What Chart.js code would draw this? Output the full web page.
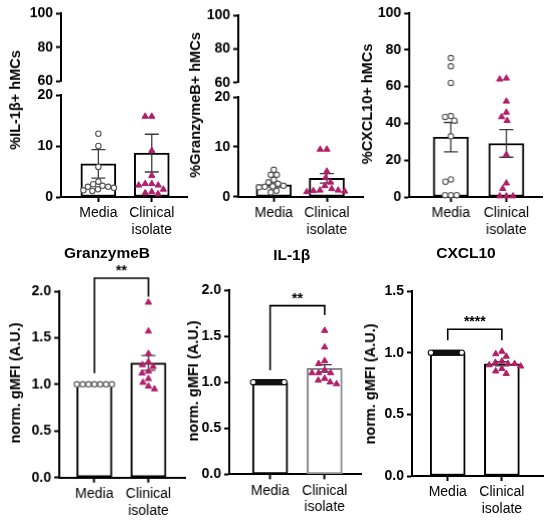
<!DOCTYPE html>
<html>
<head>
<meta charset="utf-8">
<script src="https://cdn.jsdelivr.net/npm/chart.js@4.4.1/dist/chart.umd.min.js"></script>
<style>
  html, body { margin: 0; padding: 0; background: #fff; }
  #fig { position: relative; width: 550px; height: 521px; overflow: hidden;
         font-family: "Liberation Sans", Arial, sans-serif; color: #000; }
  .box { position: absolute; }
  .ytitle { position: absolute; font-weight: bold; font-size: 14.5px; white-space: nowrap;
            transform: translate(-50%, -50%) rotate(-90deg); }
  .ptitle { position: absolute; font-weight: bold; font-size: 15.5px; white-space: nowrap;
            transform: translate(-50%, -50%); }
</style>
</head>
<body>
<div id="fig"></div>
<script>
// ─── DATA ───
const groups = ['Media', 'Clinical isolate'];

// % IL-1b+ hMCs
const il1bPctMedia   = [12.4, 10.0, 5.9, 3.0, 2.5, 2.2, 2.0, 2.0, 1.8, 1.5, 1.3, 1.2];
const il1bPctIsolate = [15.8, 15.8, 9.1, 4.2, 2.6, 2.6, 2.3, 2.3, 1.5, 1.0, 0.8, 0.6];
const il1bPctMean = [6.5, 8.6];
const il1bPctSem  = [2.8, 3.7];

// % GranzymeB+ hMCs
const gzmbPctMedia   = [5.4, 4.4, 4.4, 3.4, 2.9, 2.6, 2.2, 2.1, 2.0, 1.9, 1.2, 0.9];
const gzmbPctIsolate = [9.5, 9.5, 5.1, 3.8, 2.9, 2.2, 1.6, 1.3, 1.3, 1.2, 1.1, 1.0];
const gzmbPctMean = [2.4, 3.7];
const gzmbPctSem  = [0.45, 0.95];

// % CXCL10+ hMCs
const cxclPctMedia   = [75.5, 71, 62, 44, 43.5, 41.5, 33, 9.5, 8.3, 1, 1, 1];
const cxclPctIsolate = [64.5, 64, 52, 46, 43.5, 41.5, 23, 7.5, 4.5, 0.5, 0.5, 0.5];
const cxclPctMean = [32.5, 29.1];
const cxclPctSem  = [8.0, 7.5];

// norm. gMFI
const gzmbMfiMedia   = [1, 1, 1, 1, 1, 1, 1];
const gzmbMfiIsolate = [1.88, 1.57, 1.33, 1.24, 1.21, 1.19, 1.14, 1.12, 1.06, 1.02, 0.98, 0.95];
const gzmbMfiMean = [1.0, 1.23];
const gzmbMfiSem  = [0, 0.08];

const il1bMfiMedia   = [1, 1, 1, 1, 1, 1, 1, 1, 1, 1, 1, 1];
const il1bMfiIsolate = [1.56, 1.38, 1.23, 1.20, 1.13, 1.10, 1.10, 1.10, 1.04, 1.02, 1.00, 0.98];
const il1bMfiMean = [1.0, 1.15];
const il1bMfiSem  = [0, 0.04];

const cxclMfiMedia   = [1, 1, 1, 1, 1, 1, 1, 1, 1, 1, 1, 1];
const cxclMfiIsolate = [1.01, 0.99, 0.97, 0.93, 0.92, 0.91, 0.91, 0.90, 0.89, 0.87, 0.85, 0.83];
const cxclMfiMean = [1.0, 0.91];
const cxclMfiSem  = [0, 0.017];

// significance brackets: [left end, top, right end]
const gzmbBracket = [1.12, 2.14, 1.94];
const il1bBracket = [1.13, 1.83, 1.73];
const cxclBracket = [1.10, 1.19, 1.10];

// ─── LAYOUT ───
const AXIS_W = 44, X_H = 44, PAD_R = 7;
const PINK = '#B21F69';
const FONT = '"Liberation Sans", Arial, sans-serif';

Chart.defaults.font.family = FONT;
Chart.defaults.color = '#000';
Chart.defaults.animation = false;

const panels = [
  { media: il1bPctMedia, isolate: il1bPctIsolate, mean: il1bPctMean, sem: il1bPctSem,
    y: [0, 20, 10, 0], area: [61, 187, 94.5, 196.5], xr: [0.30, 2.66], padTop: 12,
    upper: { y: [60, 100, 20, 0], top: 13.3, bottom: 80.7 },
    yTitle: '%IL-1β+ hMCs', yTitleAt: [15, 100] },
  { media: gzmbPctMedia, isolate: gzmbPctIsolate, mean: gzmbPctMean, sem: gzmbPctSem,
    y: [0, 20, 10, 0], area: [238.3, 362.7, 96.7, 196.5], xr: [0.33, 2.69], padTop: 12,
    upper: { y: [60, 100, 20, 0], top: 15, bottom: 81.7 },
    yTitle: '%GranzymeB+ hMCs', yTitleAt: [195, 105] },
  { media: cxclPctMedia, isolate: cxclPctIsolate, mean: cxclPctMean, sem: cxclPctSem,
    y: [0, 100, 20, 0], area: [409.3, 541.7, 12.7, 196.7], xr: [0.25, 2.65], padTop: 12,
    yTitle: '%CXCL10+ hMCs', yTitleAt: [367, 104] },
  { media: gzmbMfiMedia, isolate: gzmbMfiIsolate, mean: gzmbMfiMean, sem: gzmbMfiSem,
    y: [0, 2, 0.5, 1], area: [59.3, 185, 291, 476.7], xr: [0.35, 2.69], padTop: 50,
    bracket: gzmbBracket, stars: '**',
    yTitle: 'norm. gMFI (A.U.)', yTitleAt: [15, 383], title: 'GranzymeB', titleAt: [107, 253] },
  { media: il1bMfiMedia, isolate: il1bMfiIsolate, mean: il1bMfiMean, sem: il1bMfiSem,
    y: [0, 2, 0.5, 1], area: [229.3, 361, 290, 474.3], xr: [0.25, 2.68], padTop: 50,
    bracket: il1bBracket, stars: '**', dense: true, isoBorder: '#8c8c8c',
    yTitle: 'norm. gMFI (A.U.)', yTitleAt: [193, 381], title: 'IL-1β', titleAt: [291.7, 255] },
  { media: cxclMfiMedia, isolate: cxclMfiIsolate, mean: cxclMfiMean, sem: cxclMfiSem,
    y: [0, 1.5, 0.5, 1], area: [411.7, 542.7, 291, 476], xr: [0.34, 2.76], padTop: 50,
    bracket: cxclBracket, stars: '****', dense: true,
    yTitle: 'norm. gMFI (A.U.)', yTitleAt: [370, 384], title: 'CXCL10', titleAt: [466, 253] }
];

const fig = document.getElementById('fig');

// ─── AXES ───
function yAxis([min, max, step, decimals]) {
  return {
    min, max,
    afterFit: s => { s.width = AXIS_W; },
    border: { display: true, color: '#000', width: 2 },
    grid: { drawOnChartArea: false, drawTicks: true, tickLength: 5, tickWidth: 2, tickColor: '#000' },
    ticks: { stepSize: step, color: '#000', padding: 3, font: { size: 14, weight: 'bold' },
             callback: v => v.toFixed(decimals) }
  };
}

function xAxis([min, max]) {
  return {
    type: 'linear', min, max,
    offset: false,
    afterBuildTicks: s => { s.ticks = groups.map((g, i) => ({ value: i + 1 })); },
    afterFit: s => { s.height = X_H; },
    border: { display: true, color: '#000', width: 2 },
    grid: { offset: false, drawOnChartArea: false, drawTicks: true, tickLength: 5, tickWidth: 2, tickColor: '#000' },
    ticks: { color: '#000', padding: 3, font: { size: 14 },
             callback: v => groups[Math.round(v) - 1].split(' ') }
  };
}

// ─── PLUGINS ───
function errorBars(mean, sem) {
  return {
    id: 'errorBars',
    afterDatasetDraw(chart, args) {
      if (args.index !== 2) return;
      const { ctx, scales: { x, y } } = chart;
      ctx.save();
      ctx.strokeStyle = '#3c3c3c';
      ctx.lineWidth = 1.3;
      mean.forEach((m, i) => {
        if (!sem[i]) return;
        const px = x.getPixelForValue(i + 1);
        const lo = y.getPixelForValue(m - sem[i]);
        const hi = y.getPixelForValue(m + sem[i]);
        ctx.beginPath();
        ctx.moveTo(px, lo); ctx.lineTo(px, hi);
        ctx.moveTo(px - 7, lo); ctx.lineTo(px + 7, lo);
        ctx.moveTo(px - 7, hi); ctx.lineTo(px + 7, hi);
        ctx.stroke();
      });
      ctx.restore();
    }
  };
}

function bracket(b, stars) {
  return {
    id: 'bracket',
    afterDraw(chart) {
      if (!b) return;
      const { ctx, scales: { x, y } } = chart;
      const x1 = x.getPixelForValue(1), x2 = x.getPixelForValue(2);
      const top = y.getPixelForValue(b[1]);
      ctx.save();
      ctx.strokeStyle = '#000';
      ctx.lineWidth = 1.6;
      ctx.beginPath();
      ctx.moveTo(x1, y.getPixelForValue(b[0]));
      ctx.lineTo(x1, top);
      ctx.lineTo(x2, top);
      ctx.lineTo(x2, y.getPixelForValue(b[2]));
      ctx.stroke();
      ctx.fillStyle = '#000';
      ctx.font = 'bold 14px ' + FONT;
      ctx.textAlign = 'center';
      ctx.textBaseline = 'alphabetic';
      ctx.fillText(stars, (x1 + x2) / 2, top - 3);
      ctx.restore();
    }
  };
}

// ─── BEESWARM (spreads points sideways so they don't overlap) ───
function swarm(chart, center, values, r) {
  const xs = chart.scales.x, ys = chart.scales.y;
  const cx = xs.getPixelForValue(center);
  const placed = [];
  return values.map(v => {
    const py = ys.getPixelForValue(v);
    const blocked = [];
    placed.forEach(p => {
      const dy = Math.abs(p.py - py);
      if (dy < 2 * r) {
        const w = Math.sqrt(4 * r * r - dy * dy);
        blocked.push([p.dx - w, p.dx + w]);
      }
    });
    const cands = [0];
    blocked.forEach(b => cands.push(b[0], b[1]));
    cands.sort((a, b) => Math.abs(a) - Math.abs(b));
    const dx = cands.find(c => blocked.every(b => c <= b[0] + 1e-6 || c >= b[1] - 1e-6));
    placed.push({ dx, py });
    return { x: xs.getValueForPixel(cx + dx), y: v };
  });
}

function addBox(left, top, width, height) {
  const div = document.createElement('div');
  div.className = 'box';
  Object.assign(div.style, { left: left + 'px', top: top + 'px', width: width + 'px', height: height + 'px' });
  const canvas = document.createElement('canvas');
  div.appendChild(canvas);
  fig.appendChild(div);
  return canvas;
}

function addText(cls, text, [x, y]) {
  const el = document.createElement('div');
  el.className = cls;
  el.textContent = text;
  el.style.left = x + 'px';
  el.style.top = y + 'px';
  fig.appendChild(el);
}

// ─── BUILD PANELS ───
panels.forEach(p => {
  const [left, right, top, bottom] = p.area;
  const x0 = left - AXIS_W, y0 = top - p.padTop;
  const w = right + PAD_R - x0, h = bottom + X_H - y0;
  const n = p.media.length;

  const canvas = addBox(x0, y0, w, h);
  const chart = new Chart(canvas, {
    type: 'bar',
    data: {
      datasets: [
        {
          type: 'scatter',
          data: p.media.map(v => ({ x: 1, y: v })),
          pointStyle: 'circle',
          pointRadius: 2.7,
          pointBorderWidth: 1.1,
          pointBorderColor: p.dense ? '#111' : '#555',
          pointBackgroundColor: p.dense ? (c => c.dataIndex >= n - 2 ? '#fff' : '#111') : '#fff',
          clip: false
        },
        {
          type: 'scatter',
          data: p.isolate.map(v => ({ x: 2, y: v })),
          pointStyle: 'triangle',
          pointRadius: 3.6,
          pointBorderWidth: 1,
          pointBorderColor: PINK,
          pointBackgroundColor: PINK,
          clip: false
        },
        {
          type: 'bar',
          data: p.mean.map((m, i) => ({ x: i + 1, y: m })),
          backgroundColor: '#fff',
          borderColor: ['#000', p.isoBorder || '#000'],
          borderWidth: 2,
          borderSkipped: false,
          barThickness: 35,
          clip: false
        }
      ]
    },
    options: {
      responsive: true,
      maintainAspectRatio: false,
      layout: { padding: { top: p.padTop, right: PAD_R, left: 0, bottom: 0 } },
      plugins: { legend: { display: false }, tooltip: { enabled: false } },
      scales: { x: xAxis(p.xr), y: yAxis(p.y) }
    },
    plugins: [errorBars(p.mean, p.sem), bracket(p.bracket, p.stars)]
  });

  chart.data.datasets[0].data = swarm(chart, 1, p.media, p.dense ? 1.4 : 2.9);
  chart.data.datasets[1].data = swarm(chart, 2, p.isolate, 3.3);
  chart.update('none');

  // upper segment of a broken y axis
  if (p.upper) {
    const uy0 = p.upper.top - 12;
    const uh = p.upper.bottom - p.upper.top + 24;
    const ucanvas = addBox(x0, uy0, w, uh);
    new Chart(ucanvas, {
      type: 'scatter',
      data: { datasets: [] },
      options: {
        responsive: true,
        maintainAspectRatio: false,
        layout: { padding: { top: 12, bottom: 12, right: PAD_R, left: 0 } },
        plugins: { legend: { display: false }, tooltip: { enabled: false } },
        scales: { x: { display: false, min: 0, max: 1 }, y: yAxis(p.upper.y) }
      }
    });
  }

  addText('ytitle', p.yTitle, p.yTitleAt);
  if (p.title) addText('ptitle', p.title, p.titleAt);
});
</script>
</body>
</html>
